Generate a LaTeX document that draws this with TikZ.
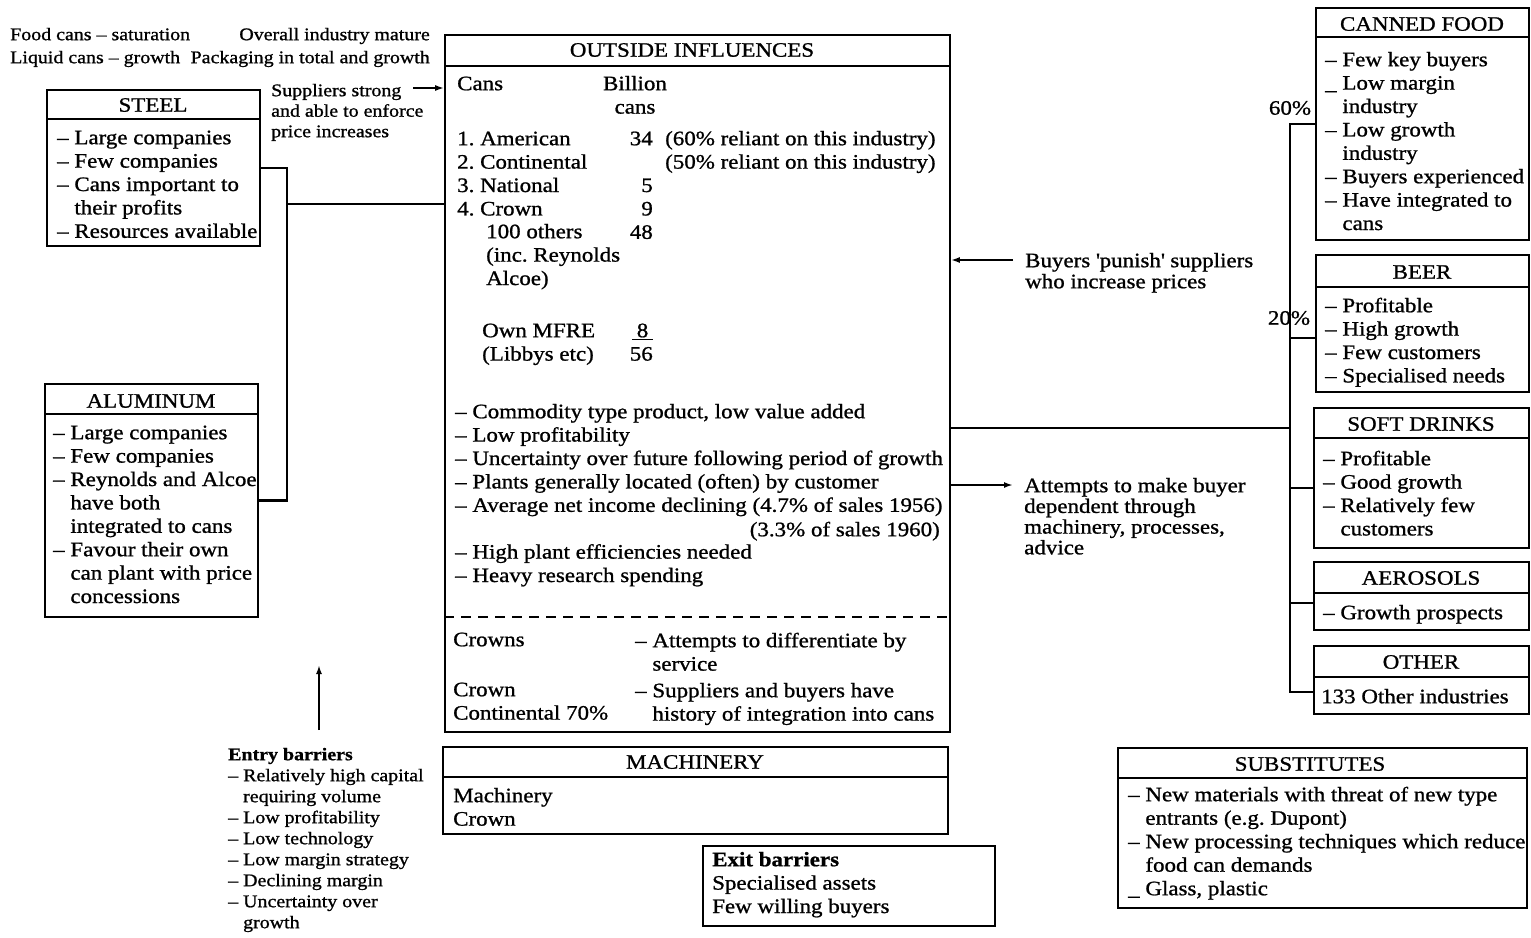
\documentclass[tikz,border=0pt]{standalone}
\usepackage{fontspec}
\setmainfont{Liberation Serif}[FakeStretch=1.12,FakeBold=1.0]
\usetikzlibrary{arrows.meta,fit}
\frenchspacing
\newcommand{\bodyf}{\fontsize{20.5}{23.4}\selectfont}
\newcommand{\smallf}{\fontsize{17.8}{21}\selectfont}
\newcommand{\ind}{\phantom{--\ }}
\newcommand{\lowdash}{\rlap{\_}\phantom{--}\ }
\newcommand{\fl}{\rule{0pt}{16pt}}
\tikzset{
  box/.style={draw, line width=1.7pt, inner sep=0pt},
  hdr/.style={line width=1.7pt},
  title/.style={inner sep=0pt, font=\bodyf},
  txt/.style={anchor=north west, inner sep=0pt, align=left, font=\bodyf},
  txtr/.style={anchor=north east, inner sep=0pt, align=right, font=\bodyf},
  sml/.style={anchor=north west, inner sep=0pt, align=left, font=\smallf},
  link/.style={line width=2.6pt},
  arr/.style={line width=1.8pt, -{Latex[length=9pt,width=6pt]}},
}
\begin{document}
\begin{tikzpicture}[x=1pt,y=-1pt]
\useasboundingbox (0,0) rectangle (1531,937);

% market notes, top left
\node[sml, font={\fontsize{17.8}{23}\selectfont}] (notesL) at (10,24) {\fl Food cans -- saturation\\Liquid cans -- growth};
\node[txtr, font={\fontsize{17.8}{23}\selectfont}] (notesR) at (430,24) {\fl Overall industry mature\\Packaging in total and growth};

% suppliers
\node[box, fit={(47,90) (260,246)}] (steel) {};
\draw[hdr] (steel.west |- 0,119) -- (steel.east |- 0,119);
\node[title] (steelT) at (153,105) {STEEL};
\node[txt] (steelL) at (57,128) {\fl -- Large companies\\-- Few companies\\-- Cans important to\\\ind their profits\\-- Resources available};

\node[box, fit={(45,384) (258,617)}] (alu) {};
\draw[hdr] (alu.west |- 0,414) -- (alu.east |- 0,414);
\node[title] (aluT) at (151,401) {ALUMINUM};
\node[txt] (aluL) at (53,423) {\fl -- Large companies\\-- Few companies\\-- Reynolds and Alcoe\\\ind have both\\\ind integrated to cans\\-- Favour their own\\\ind can plant with price\\\ind concessions};

\node[sml, font={\fontsize{17.8}{20.5}\selectfont}] (supp) at (271,80) {\fl Suppliers strong\\and able to enforce\\price increases};

% industry box
\node[box, fit={(445,35) (950,732)}] (ctr) {};
\draw[hdr] (ctr.west |- 0,66) -- (ctr.east |- 0,66);
\node[title] (ctrT) at (692,50) {OUTSIDE INFLUENCES};
\node[txt] (cans) at (457,74) {\fl Cans};
\node[anchor=north, inner sep=0pt, align=center, font=\bodyf] (bill) at (635,74) {\fl Billion\\cans};
\node[txt] (firms) at (457,129) {\fl 1. American\\2. Continental\\3. National\\4. Crown};
\node[txt] (others) at (486,222) {\fl 100 others\\(inc. Reynolds\\Alcoe)};
\node[txt] (own) at (482,321) {\fl Own MFRE\\(Libbys etc)};
\node[txtr] (nums) at (653,129) {\fl 34\\\mbox{}\\5\\9\\48};
\node[txtr] (tot) at (653,321) {\fl \underline{\makebox[1em]{8}}\\56};
\node[txt] (rel) at (665,129) {\fl (60\% reliant on this industry)\\(50\% reliant on this industry)};
\node[txt] (feat) at (455,402) {\fl -- Commodity type product, low value added\\-- Low profitability\\-- Uncertainty over future following period of growth\\-- Plants generally located (often) by customer\\-- Average net income declining (4.7\% of sales 1956)\\\mbox{}\\-- High plant efficiencies needed\\-- Heavy research spending};
\node[txtr] (s60) at (940,520) {\fl (3.3\% of sales 1960)};
\draw[line width=1.4pt, dash pattern=on 10pt off 7pt] (ctr.west |- 0,617) -- (ctr.east |- 0,617);
\node[txt] (crowns) at (453,630) {\fl Crowns};
\node[txt] (crown2) at (453,680) {\fl Crown\\Continental 70\%};
\node[txt] (diff) at (635,631) {\fl -- Attempts to differentiate by\\\ind service};
\node[txt] (integ) at (635,681) {\fl -- Suppliers and buyers have\\\ind history of integration into cans};

% machinery
\node[box, fit={(443,747) (948,834)}] (mach) {};
\draw[hdr] (mach.west |- 0,777) -- (mach.east |- 0,777);
\node[title] (machT) at (695,762) {MACHINERY};
\node[txt] (machL) at (453,786) {\fl Machinery\\Crown};

% exit barriers
\node[box, fit={(703,846) (995,926)}] (exitb) {};
\node[txt] (exitL) at (712,850) {\fl \textbf{Exit barriers}\\Specialised assets\\Few willing buyers};

% entry barriers
\node[sml] (entry) at (228,744) {\fl \textbf{Entry barriers}\\-- Relatively high capital\\\ind requiring volume\\-- Low profitability\\-- Low technology\\-- Low margin strategy\\-- Declining margin\\-- Uncertainty over\\\ind growth};
\coordinate (entryfoot) at (319,730);
\coordinate (entryhead) at (319,665);
\draw[arr] (entryfoot) -- (entryhead);

% buyer notes
\node[txt, font={\fontsize{20.5}{21}\selectfont}] (punish) at (1025,251) {\fl Buyers \textquotesingle punish\textquotesingle\ suppliers\\who increase prices};
\node[txt, font={\fontsize{20.5}{20.7}\selectfont}] (attempt) at (1024,476) {\fl Attempts to make buyer\\dependent through\\machinery, processes,\\advice};

% buyers
\node[box, fit={(1316,8) (1529,240)}] (canned) {};
\draw[hdr] (canned.west |- 0,37) -- (canned.east |- 0,37);
\node[title] (cannedT) at (1422,24) {CANNED FOOD};
\node[txt] (cannedL) at (1325,50) {\fl -- Few key buyers\\\lowdash Low margin\\\ind industry\\-- Low growth\\\ind industry\\-- Buyers experienced\\-- Have integrated to\\\ind cans};

\node[box, fit={(1316,255) (1529,392)}] (beer) {};
\draw[hdr] (beer.west |- 0,287) -- (beer.east |- 0,287);
\node[title] (beerT) at (1422,272) {BEER};
\node[txt] (beerL) at (1325,296) {\fl -- Profitable\\-- High growth\\-- Few customers\\-- Specialised needs};

\node[box, fit={(1314,408) (1529,548)}] (soft) {};
\draw[hdr] (soft.west |- 0,438) -- (soft.east |- 0,438);
\node[title] (softT) at (1421,424) {SOFT DRINKS};
\node[txt] (softL) at (1323,449) {\fl -- Profitable\\-- Good growth\\-- Relatively few\\\ind customers};

\node[box, fit={(1314,562) (1529,630)}] (aero) {};
\draw[hdr] (aero.west |- 0,593) -- (aero.east |- 0,593);
\node[title] (aeroT) at (1421,578) {AEROSOLS};
\node[txt] (aeroL) at (1323,603) {\fl -- Growth prospects};

\node[box, fit={(1314,646) (1529,714)}] (other) {};
\draw[hdr] (other.west |- 0,677) -- (other.east |- 0,677);
\node[title] (otherT) at (1421,662) {OTHER};
\node[txt] (otherL) at (1321,687) {\fl 133 Other industries};

\node[title] (p60) at (1290,108) {60\%};
\node[title] (p20) at (1289,318) {20\%};

% substitutes
\node[box, fit={(1118,748) (1527,908)}] (subs) {};
\draw[hdr] (subs.west |- 0,778) -- (subs.east |- 0,778);
\node[title] (subsT) at (1310,764) {SUBSTITUTES};
\node[txt, font={\fontsize{20.5}{23.5}\selectfont}] (subsL) at (1128,785) {\fl -- New materials with threat of new type\\\ind entrants (e.g. Dupont)\\-- New processing techniques which reduce\\\ind food can demands\\\lowdash Glass, plastic};

% supplier links
\coordinate (lbus) at (287,204);
\draw[link] (steel.east) -| (lbus |- alu.east) -- (alu.east);
\draw[link] (lbus) -- (ctr.west |- lbus);
\coordinate (suppend) at (413,88);
\draw[arr] (suppend) -- (ctr.west |- suppend);

% buyer links
\coordinate (rbus) at (1290,428);
\draw[link] (ctr.east |- rbus) -- (rbus);
\draw[link] (canned.west) -| (1290,692) -- (other.west |- 1290,692);
\draw[link] (1290,338) -- (beer.west |- 1290,338);
\draw[link] (1290,488) -- (soft.west |- 1290,488);
\draw[link] (1290,603) -- (aero.west |- 1290,603);
\coordinate (punishend) at (1013,260);
\draw[arr] (punishend) -- (ctr.east |- punishend);
\coordinate (attemptend) at (1013,485);
\draw[arr] (ctr.east |- attemptend) -- (attemptend);
\end{tikzpicture}
\end{document}
